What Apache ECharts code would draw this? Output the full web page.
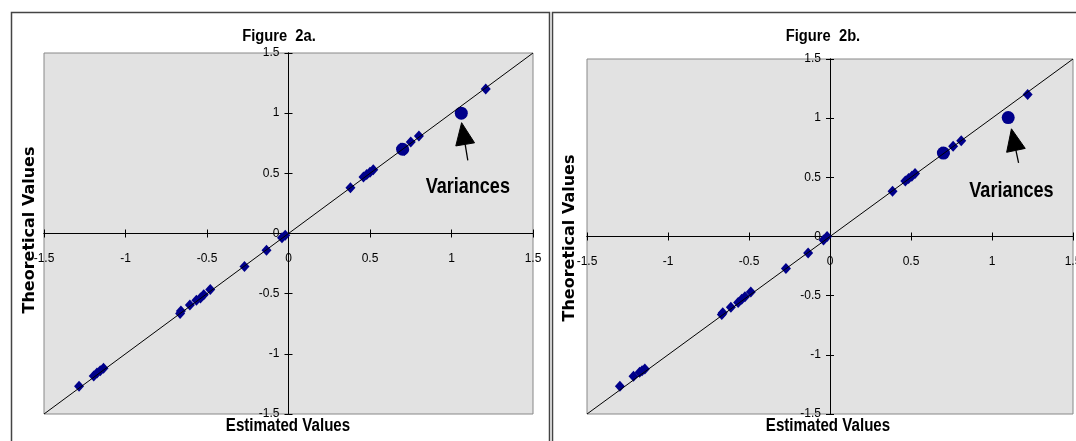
<!DOCTYPE html>
<html><head><meta charset="utf-8">
<script src="https://cdn.jsdelivr.net/npm/echarts@6/dist/echarts.min.js"></script>
<style>html,body{margin:0;padding:0;background:#fff;}#c{width:1076px;height:441px;}</style>
</head><body><div id="c"></div>
<script>
// ---- data ----
const axisMin = -1.5, axisMax = 1.5, axisStep = 0.5;
const titles = ['Figure  2a.', 'Figure  2b.'];
const xName = 'Estimated Values';
const yName = 'Theoretical Values';
const noteText = 'Variances';
const refLine = [-1.5, 1.5];

// Figure 2a
const a_est  = [1.21, 0.80, 0.75, 0.69, 0.71, 0.52, 0.50, 0.48, 0.46, 0.38, -0.02, -0.04, -0.135, -0.27, -0.48, -0.52, -0.54, -0.565, -0.605, -0.66, -0.665, -1.135, -1.155, -1.175, -1.195, -1.285];
const a_theo = [1.20, 0.81, 0.76, 0.71, 0.69, 0.53, 0.51, 0.49, 0.47, 0.38, -0.015, -0.035, -0.14, -0.275, -0.465, -0.51, -0.535, -0.555, -0.595, -0.645, -0.665, -1.12, -1.14, -1.16, -1.185, -1.27];
const a_varEst  = [1.06, 0.70];
const a_varTheo = [1.00, 0.70];
const a_arrowTip = [1.062, 0.921], a_arrowTail = [1.10, 0.608], a_notePos = [1.10, 0.384];

// Figure 2b
const b_est  = [1.22, 0.81, 0.76, 0.69, 0.71, 0.525, 0.505, 0.485, 0.465, 0.386, -0.018, -0.04, -0.135, -0.272, -0.489, -0.525, -0.545, -0.567, -0.612, -0.662, -0.668, -1.143, -1.16, -1.175, -1.213, -1.297];
const b_theo = [1.20, 0.81, 0.763, 0.715, 0.70, 0.532, 0.51, 0.49, 0.47, 0.383, 0.0, -0.03, -0.14, -0.27, -0.47, -0.51, -0.53, -0.557, -0.597, -0.645, -0.66, -1.12, -1.135, -1.147, -1.18, -1.265];
const b_varEst  = [1.10, 0.70];
const b_varTheo = [1.005, 0.705];
const b_arrowTip = [1.12, 0.91], b_arrowTail = [1.164, 0.622], b_notePos = [1.12, 0.383];

// ---- build ----
const pts = (xs, ys) => xs.map((x, i) => [x, ys[i]]);
const navy = '#00008b';
const labelFont = {fontFamily: '"Liberation Sans", Arial, sans-serif', fontSize: 12, color: '#000'};
const grids = [
  {left: 44, top: 53, width: 489, height: 361},
  {left: 587, top: 59, width: 486, height: 355}
];
const xAxes = [], yAxes = [];
grids.forEach((g, gi) => {
  const base = {type: 'value', gridIndex: gi, min: axisMin, max: axisMax, interval: axisStep,
    splitLine: {show: false},
    axisLine: {show: true, onZero: false, lineStyle: {color: '#000', width: 1}},
    axisTick: {show: true, length: 4, lineStyle: {color: '#000', width: 1}}};
  xAxes.push(Object.assign({}, base, {position: 'bottom',
    axisLabel: Object.assign({show: true, margin: 19, hideOverlap: false, showMinLabel: true, showMaxLabel: true}, labelFont)}));
  xAxes.push(Object.assign({}, base, {position: 'top', axisLabel: {show: false}}));
  yAxes.push(Object.assign({}, base, {position: 'left',
    axisLabel: Object.assign({show: true, margin: 9, hideOverlap: false, showMinLabel: true, showMaxLabel: true}, labelFont)}));
  yAxes.push(Object.assign({}, base, {position: 'right', axisLabel: {show: false}}));
});

const sets = [
  {est: a_est, theo: a_theo, vE: a_varEst, vT: a_varTheo},
  {est: b_est, theo: b_theo, vE: b_varEst, vT: b_varTheo}
];
const series = [];
sets.forEach((s, gi) => {
  const ax = {xAxisIndex: gi * 2, yAxisIndex: gi * 2};
  series.push(Object.assign({type: 'scatter', symbol: 'diamond', symbolSize: [10, 11], data: pts(s.est, s.theo),
    itemStyle: {color: navy, opacity: 1}, silent: true, z: 2}, ax));
  series.push(Object.assign({type: 'scatter', symbol: 'circle', symbolSize: 13, data: pts(s.vE, s.vT),
    itemStyle: {color: navy, opacity: 1}, silent: true, z: 2}, ax));
  series.push(Object.assign({type: 'line', data: pts(refLine, refLine), showSymbol: false, symbol: 'none',
    lineStyle: {color: '#000', width: 1}, silent: true, z: 3}, ax));
});

const chart = echarts.init(document.getElementById('c'), null, {renderer: 'canvas'});
chart.setOption({
  backgroundColor: '#fff',
  animation: false,
  grid: grids.map(g => Object.assign({show: true, containLabel: false, outerBoundsMode: 'none',
    backgroundColor: '#e2e2e2', borderColor: '#888', borderWidth: 1}, g)),
  xAxis: xAxes,
  yAxis: yAxes,
  series: series
});

// move the axes so that they cross at the data origin (0,0), taken from the library's scales
grids.forEach((g, gi) => {
  const z = chart.convertToPixel({xAxisIndex: gi * 2, yAxisIndex: gi * 2}, [0, 0]);
  xAxes[gi * 2].offset = z[1] - (g.top + g.height);
  xAxes[gi * 2 + 1].offset = g.top - z[1];
  yAxes[gi * 2].offset = g.left - z[0];
  yAxes[gi * 2 + 1].offset = z[0] - (g.left + g.width);
});
chart.setOption({xAxis: xAxes, yAxis: yAxes});

// ---- annotations ----
const sans = '"Liberation Sans", Arial, sans-serif';
const graphics = [
  {type: 'rect', shape: {x: 11.5, y: 12.5, width: 538, height: 450}, style: {fill: 'none', stroke: '#444', lineWidth: 1.5}, z: 0},
  {type: 'rect', shape: {x: 552.5, y: 12.5, width: 540, height: 450}, style: {fill: 'none', stroke: '#444', lineWidth: 1.5}, z: 0}
];
const titlePos = [[279, 37], [823, 37]];
const xNamePos = [[288, 426], [828, 426]];
const yNamePos = [[30, 230], [570, 238]];
const arrows = [[a_arrowTip, a_arrowTail, a_notePos], [b_arrowTip, b_arrowTail, b_notePos]];
[0, 1].forEach(gi => {
  graphics.push({type: 'text', x: titlePos[gi][0], y: titlePos[gi][1], scaleX: 0.92, z: 10,
    style: {text: titles[gi], fontFamily: sans, fontWeight: 'bold', fontSize: 16, fill: '#000', align: 'center', verticalAlign: 'middle'}});
  graphics.push({type: 'text', x: xNamePos[gi][0], y: xNamePos[gi][1], scaleX: 0.84, z: 10,
    style: {text: xName, fontFamily: sans, fontWeight: 'bold', fontSize: 18, fill: '#000', align: 'center', verticalAlign: 'middle'}});
  graphics.push({type: 'text', x: yNamePos[gi][0], y: yNamePos[gi][1], rotation: Math.PI / 2, z: 10,
    style: {text: yName, fontFamily: '"DejaVu Sans", sans-serif', fontWeight: 'bold', fontSize: 16, fill: '#000', align: 'center', verticalAlign: 'middle'}});
  const finder = {xAxisIndex: gi * 2, yAxisIndex: gi * 2};
  const [tipD, tailD, noteD] = arrows[gi];
  const tip = chart.convertToPixel(finder, tipD);
  const tail = chart.convertToPixel(finder, tailD);
  const note = chart.convertToPixel(finder, noteD);
  const dx = tail[0] - tip[0], dy = tail[1] - tip[1];
  const len = Math.hypot(dx, dy), ux = dx / len, uy = dy / len;
  const headLen = 22, halfW = 9.5;
  const bm = [tip[0] + ux * headLen, tip[1] + uy * headLen];
  const pL = [bm[0] - uy * halfW, bm[1] + ux * halfW];
  const pR = [bm[0] + uy * halfW, bm[1] - ux * halfW];
  graphics.push({type: 'polygon', shape: {points: [tip, pL, pR]}, style: {fill: '#000', stroke: '#000', lineWidth: 1}, z: 10});
  graphics.push({type: 'line', shape: {x1: bm[0], y1: bm[1], x2: tail[0], y2: tail[1]}, style: {stroke: '#000', lineWidth: 1.3}, z: 10});
  graphics.push({type: 'text', x: note[0], y: note[1], scaleX: 0.82, z: 10,
    style: {text: noteText, fontFamily: sans, fontWeight: 'bold', fontSize: 22, fill: '#000', align: 'center', verticalAlign: 'middle'}});
});
chart.setOption({graphic: graphics});
</script></body></html>
